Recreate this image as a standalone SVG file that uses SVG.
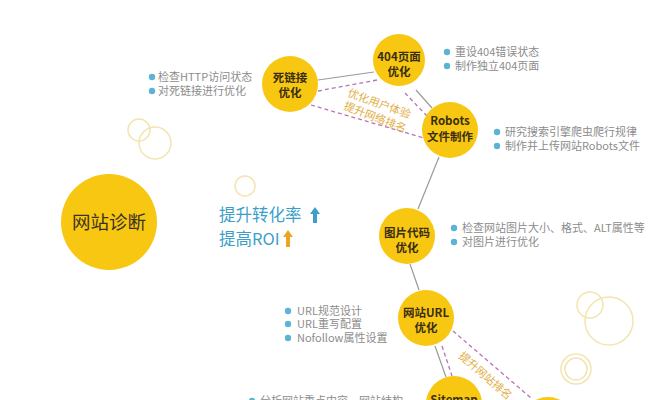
<svg xmlns="http://www.w3.org/2000/svg" width="657" height="400" viewBox="0 0 657 400">
<defs>
<style>
text{font-family:"Noto Sans CJK SC","Noto Sans",sans-serif;}
.node{fill:#f8c712;}
.nt{font-size:11.5px;font-weight:bold;fill:#3a2e10;text-anchor:middle;}
.bt{font-size:11px;fill:#8c8c8c;}
.dot{fill:#5cb3d6;}
.deco{fill:none;stroke:#f3e4b0;stroke-width:1.5;}
.solid{stroke:#9a9a9a;stroke-width:1.2;fill:none;}
.dash{stroke:#b873b8;stroke-width:1.3;stroke-dasharray:4 3;fill:none;}
.lbl{font-size:11px;fill:#e3ae45;}
</style>
</defs>
<rect width="657" height="400" fill="#ffffff"/>
<g id="decor">
<circle class="deco" cx="139" cy="130" r="11"/>
<circle class="deco" cx="155" cy="143" r="16"/>
<circle class="deco" cx="245" cy="186" r="10"/>
<circle class="deco" cx="590" cy="305" r="13"/>
<circle class="deco" cx="609" cy="321" r="24"/>
<circle class="deco" cx="576" cy="369" r="15"/>
<circle class="deco" cx="576" cy="369" r="11"/>
</g>
<g id="connectors">
<path class="solid" d="M318 80 L374 72"/>
<path class="solid" d="M416 90 L432 108"/>
<path class="solid" d="M439 157 L418 209"/>
<path class="solid" d="M410 264 L419 290"/>
<path class="solid" d="M435 346 L446 377"/>
<path class="dash" d="M318 91 L377 80"/>
<path class="dash" d="M405 93 L427 116"/>
<path class="dash" d="M311 105 L424 138"/>
<path class="dash" d="M442 346 L452 376"/>
<path class="dash" d="M453 331 L531 398"/>
<text class="lbl" transform="translate(347,96) rotate(20)">优化用户体验</text>
<text class="lbl" transform="translate(343,109) rotate(21)">提升网络排名</text>
<text class="lbl" transform="translate(458,357) rotate(41)">提升网站排名</text>
</g>
<g id="main">
<circle class="node" cx="109" cy="222" r="48"/>
<text x="109" y="229" font-size="18.5" fill="#3a3220" text-anchor="middle">网站诊断</text>
</g>
<g id="goals">
<text x="219" y="221" font-size="16.5" fill="#3d9fc9">提升转化率</text>
<path d="M315 207 L320 214 L317 214 L317 223 L313 223 L313 214 L310 214 Z" fill="#3d9fc9"/>
<text x="219" y="245" font-size="16.5" fill="#3d9fc9">提高ROI</text>
<path d="M288 230 L293 237 L290 237 L290 247 L286 247 L286 237 L283 237 Z" fill="#eaa628"/>
</g>
<g id="n-deadlink">
<circle class="node" cx="290" cy="84" r="28"/>
<text class="nt" x="290" y="82">死链接</text>
<text class="nt" x="290" y="97">优化</text>
<circle class="dot" cx="152" cy="77" r="3.2"/>
<circle class="dot" cx="152" cy="91" r="3.2"/>
<text class="bt" x="158" y="81">检查HTTP访问状态</text>
<text class="bt" x="158" y="95">对死链接进行优化</text>
</g>
<g id="n-404">
<circle class="node" cx="399" cy="60" r="26"/>
<text class="nt" x="399" y="61">404页面</text>
<text class="nt" x="399" y="76">优化</text>
<circle class="dot" cx="447" cy="52" r="3.2"/>
<circle class="dot" cx="447" cy="66" r="3.2"/>
<text class="bt" x="455" y="56">重设404错误状态</text>
<text class="bt" x="455" y="70">制作独立404页面</text>
</g>
<g id="n-robots">
<circle class="node" cx="450" cy="130" r="28"/>
<text class="nt" x="450" y="125">Robots</text>
<text class="nt" x="450" y="141">文件制作</text>
<circle class="dot" cx="497" cy="132" r="3.2"/>
<circle class="dot" cx="497" cy="146" r="3.2"/>
<text class="bt" x="505" y="136">研究搜索引擎爬虫爬行规律</text>
<text class="bt" x="505" y="150">制作并上传网站Robots文件</text>
</g>
<g id="n-image">
<circle class="node" cx="407" cy="236" r="28"/>
<text class="nt" x="407" y="237">图片代码</text>
<text class="nt" x="407" y="252">优化</text>
<circle class="dot" cx="454" cy="228" r="3.2"/>
<circle class="dot" cx="454" cy="242" r="3.2"/>
<text class="bt" x="462" y="232">检查网站图片大小、格式、ALT属性等</text>
<text class="bt" x="462" y="246">对图片进行优化</text>
</g>
<g id="n-url">
<circle class="node" cx="426" cy="318" r="28"/>
<text class="nt" x="426" y="317">网站URL</text>
<text class="nt" x="426" y="332">优化</text>
<circle class="dot" cx="288" cy="311" r="3.2"/>
<circle class="dot" cx="288" cy="324" r="3.2"/>
<circle class="dot" cx="288" cy="338" r="3.2"/>
<text class="bt" x="297" y="315">URL规范设计</text>
<text class="bt" x="297" y="328">URL重写配置</text>
<text class="bt" x="297" y="342">Nofollow属性设置</text>
</g>
<g id="n-sitemap">
<circle class="node" cx="454" cy="404" r="28"/>
<text class="nt" x="454" y="404">Sitemap</text>
<circle class="dot" cx="252" cy="401" r="3.2"/>
<text class="bt" x="260" y="405">分析网站重点内容、网站结构</text>
</g>
<g id="n-bottomright">
<circle class="node" cx="548" cy="425" r="28"/>
</g>
</svg>
